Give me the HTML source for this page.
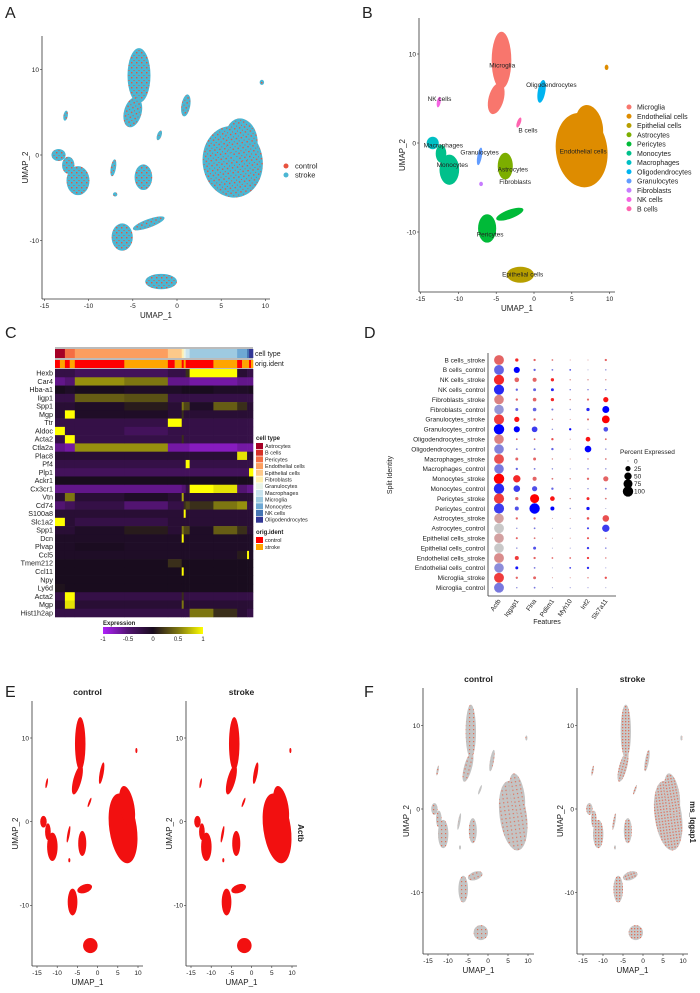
<!DOCTYPE html>
<html><head><meta charset="utf-8">
<style>
html,body{margin:0;padding:0;background:#fff;}
svg{display:block;font-family:"Liberation Sans",sans-serif;}
text{fill:#222;}
</style></head>
<body>
<svg id="fig" width="700" height="993" viewBox="0 0 700 993">
<defs>
<pattern id="patA" width="5" height="5" patternUnits="userSpaceOnUse"><rect width="5" height="5" fill="#4bb6d3"/><rect x="1" y="2" width="1.4" height="1.4" fill="#e8533f"/><rect x="3.5" y="0" width="1" height="1" fill="#e8533f"/></pattern>
<pattern id="patF" width="4" height="4" patternUnits="userSpaceOnUse"><rect width="4" height="4" fill="#c4c4c4"/><rect x="1" y="1" width="1.2" height="1.2" fill="#e0705a"/></pattern>
<pattern id="patFs" width="3" height="3" patternUnits="userSpaceOnUse"><rect width="3" height="3" fill="#c8c8c8"/><rect x="1" y="1" width="1.3" height="1.3" fill="#e0705a"/></pattern>
</defs>
<g id="root"></g>
</svg>
<script>
// ---------- UMAP cluster data (UMAP units) ----------
const clusterNames = ["Microglia","Microglia","Endothelial cells","Endothelial cells","Epithelial cells","Pericytes","Pericytes","Astrocytes","Monocytes","Monocytes","Macrophages","Oligodendrocytes","Granulocytes","Fibroblasts","NK cells","B cells","Endothelial cells"];
const clusterCX = [-4.3,-5.0,6.3,7.3,-1.8,-6.2,-3.2,-3.8,-11.2,-12.3,-13.4,1.0,-7.2,-7.0,-12.6,-2.0,9.6];
const clusterCY = [9.3,5.0,-0.8,1.8,-14.8,-9.6,-8.0,-2.6,-3.0,-1.2,0.0,5.8,-1.5,-4.6,4.6,2.3,8.5];
const clusterRX = [1.3,1.0,3.4,1.8,1.8,1.2,1.9,1.0,1.3,0.7,0.8,0.5,0.3,0.25,0.25,0.25,0.25];
const clusterRY = [3.2,1.8,4.2,2.5,0.9,1.6,0.5,1.5,1.7,1.0,0.7,1.3,1.0,0.25,0.6,0.6,0.3];
const clusterRot = [0,15,-8,-10,0,0,-20,0,0,0,0,10,10,0,10,20,0];
const legendB = ["Microglia","Endothelial cells","Epithelial cells","Astrocytes","Pericytes","Monocytes","Macrophages","Oligodendrocytes","Granulocytes","Fibroblasts","NK cells","B cells"];
const colorsB = ["#f8766d","#de8c00","#b79f00","#7cae00","#00ba38","#00c08b","#00bfc4","#00b4f0","#619cff","#c77cff","#f564e3","#ff64b0"];
const labelB = [["Microglia",-4.2,8.5],["Oligodendrocytes",2.3,6.3],["NK cells",-12.5,4.7],["B cells",-0.8,1.2],["Macrophages",-12.0,-0.5],["Granulocytes",-7.2,-1.3],["Monocytes",-10.8,-2.7],["Astrocytes",-2.8,-3.2],["Fibroblasts",-2.5,-4.6],["Endothelial cells",6.5,-1.2],["Pericytes",-5.8,-10.5],["Epithelial cells",-1.5,-15.0]];
const xTicks = [-15,-10,-5,0,5,10];
const yTicks = [-10,0,10];

// ---------- Heatmap data ----------
const hmGroups = ["Astrocytes","Pericytes","Endothelial cells","Endothelial cells","Epithelial cells","Fibroblasts","Granulocytes","Macrophages","Microglia","Microglia","Monocytes","NK cells","Oligodendrocytes"];
const hmGroupSize = [5,5,25,22,7,1,1,2,12,12,5,1,2];
const hmIdent = ["mix","mix","control","stroke","mix","control","stroke","control","control","stroke","mix","stroke","mix"];
const genes = ["Hexb","Car4","Hba-a1","Iigp1","Spp1","Mgp","Ttr","Aldoc","Acta2","Ctla2a","Plac8","Pf4","Plp1","Ackr1","Cx3cr1","Vtn","Cd74","S100a8","Slc1a2","Spp1","Dcn","Plvap","Ccl5","Tmem212","Ccl11","Npy","Ly6d","Acta2","Mgp","Hist1h2ap"];
const hmValues = [
[-.3,-.3,-.4,-.4,-.3,-.3,-.3,.2,1,1,-.2,-.3,-.3],
[-.6,-.5,.6,.5,-.6,-.6,-.6,-.6,-.7,-.7,-.6,-.6,-.6],
[0,-.1,0,-.1,-.1,0,0,0,0,-.1,-.1,-.1,0],
[-.3,-.3,.4,.35,-.3,-.3,-.3,-.3,-.3,-.3,-.3,-.3,-.3],
[-.2,-.2,-.1,.1,-.2,.5,.3,.3,-.1,.4,.2,-.2,-.2],
[-.2,1,-.1,-.1,-.2,.2,-.2,-.2,-.2,-.2,-.2,-.2,-.2],
[-.3,-.3,-.3,-.3,1,-.3,-.3,-.3,-.3,-.3,-.3,-.3,-.3],
[1,-.3,-.3,-.4,-.3,-.3,-.3,-.3,-.3,-.3,-.3,-.3,-.3],
[-.3,1,-.3,-.3,-.3,.2,-.3,-.3,-.3,-.3,-.3,-.3,-.3],
[-.6,-.7,.6,.6,-.7,-.7,-.7,-.7,-.8,-.8,-.7,-.7,-.7],
[-.2,-.2,-.2,-.2,-.2,-.2,-.2,-.2,-.2,-.2,.9,-.2,-.2],
[-.3,-.3,-.3,-.3,-.3,-.3,-.3,1,-.3,-.3,-.3,-.3,-.3],
[-.4,-.4,-.4,-.4,-.4,-.4,-.4,-.4,-.4,-.4,-.4,-.4,1],
[0,0,0,0,0,0,0,0,0,0,0,0,0],
[-.6,-.6,-.6,-.6,-.6,-.5,-.5,-.3,1,.9,-.5,-.6,-.6],
[-.2,.5,-.2,-.1,-.2,.7,-.2,-.2,-.2,-.2,-.2,-.2,-.2],
[-.5,-.4,-.3,-.5,-.3,-.3,.2,.3,.2,.5,.6,-.3,-.3],
[-.2,-.2,-.2,-.2,-.2,-.2,1,-.2,-.2,-.2,-.2,-.2,-.2],
[1,-.2,-.3,-.3,-.2,-.2,-.2,-.2,-.2,-.2,-.2,-.2,-.2],
[-.2,-.2,-.1,.1,-.2,.5,.3,.3,-.1,.4,.2,-.2,-.2],
[-.1,-.1,-.1,-.1,-.1,1,-.1,-.1,-.1,-.1,-.1,-.1,-.1],
[-.1,-.1,-.05,-.1,-.1,-.1,-.1,-.1,-.1,-.1,-.1,-.1,-.1],
[-.1,-.1,-.1,-.1,-.1,-.1,-.1,-.1,-.1,-.1,.1,1,-.1],
[0,0,0,0,.2,0,0,0,0,0,0,0,0],
[0,0,0,0,0,1,0,0,0,0,0,0,0],
[0,0,0,0,0,0,0,0,0,0,0,0,0],
[.05,0,0,0,0,0,0,0,0,0,0,0,0],
[-.3,1,-.3,-.3,-.3,.2,-.3,-.3,-.3,-.3,-.3,-.3,-.3],
[-.2,.9,-.2,-.2,-.2,.5,-.2,-.2,-.2,-.2,-.2,-.2,-.2],
[-.3,-.3,-.3,-.3,-.3,-.3,-.3,-.3,.5,.2,-.2,-.3,-.3]];
const cellTypeLegend = ["Astrocytes","B cells","Pericytes","Endothelial cells","Epithelial cells","Fibroblasts","Granulocytes","Macrophages","Microglia","Monocytes","NK cells","Oligodendrocytes"];
const cellTypeColors = ["#a50026","#d73027","#f46d43","#fc9e5f","#fdc98a","#fff0b0","#e8f3e8","#c8e3ee","#9ecae1","#6ea8d4","#4575b4","#313695"];

// ---------- Dot plot data ----------
const dotRows = ["B cells_stroke","B cells_control","NK cells_stroke","NK cells_control","Fibroblasts_stroke","Fibroblasts_control","Granulocytes_stroke","Granulocytes_control","Oligodendrocytes_stroke","Oligodendrocytes_control","Macrophages_stroke","Macrophages_control","Monocytes_stroke","Monocytes_control","Pericytes_stroke","Pericytes_control","Astrocytes_stroke","Astrocytes_control","Epithelial cells_stroke","Epithelial cells_control","Endothelial cells_stroke","Endothelial cells_control","Microglia_stroke","Microglia_control"];
const dotFeatures = ["Actb","Iqgap1","Flna","Pdlim1","Myh10","Inf2","Slc7a11"];
const dotPct = [
[90,10,5,3,1,1,5],[90,35,5,3,3,1,2],[95,20,15,10,2,2,2],[95,5,8,8,2,2,2],
[85,5,12,10,2,4,25],[85,8,12,4,2,10,45],[95,25,5,2,1,4,55],[100,35,30,2,5,1,20],
[85,3,3,5,1,20,3],[85,3,3,5,1,40,2],[90,8,8,2,1,2,3],[85,5,3,2,1,2,2],
[100,50,15,3,2,5,25],[100,40,25,5,1,2,3],[95,10,75,20,2,8,3],[95,15,100,15,2,10,1],
[85,5,5,1,1,6,40],[90,2,3,1,1,4,50],[85,4,3,1,1,4,2],[85,2,8,1,1,5,2],
[90,15,5,3,3,5,2],[85,8,3,1,3,5,1],[90,5,8,1,1,2,5],[90,2,3,1,1,1,1]];
const dotExpr = [
[.5,.8,.5,.4,.3,.3,.5],[.5,1,.5,.4,.6,.2,.3],[.8,.5,.5,.8,.3,.3,.3],[.8,.5,.5,.8,.4,.4,.4],
[.35,.5,.5,.8,.3,.5,.9],[.25,.5,.5,.4,.3,.8,1],[.7,.9,.5,.3,.3,.5,1],[1,1,.7,.3,1,.3,.6],
[.35,.5,.5,.6,.3,.9,.5],[.35,.4,.4,.5,.3,1,.3],[.6,.5,.5,.3,.3,.4,.4],[.4,.5,.4,.3,.3,.4,.3],
[1,.8,.5,.4,.3,.5,.5],[.8,.7,.6,.5,.3,.3,.4],[.7,.5,1,.9,.3,.8,.4],[.7,.6,1,1,.3,.9,.2],
[.2,.5,.5,.2,.3,.6,.6],[0,.3,.4,.2,.3,.7,.7],[.2,.5,.4,.2,.3,.6,.4],[0,.3,.6,.2,.3,.7,.4],
[.3,.7,.5,.5,.5,.7,.4],[.3,.9,.4,.2,.7,.8,.3],[.7,.5,.5,.3,.3,.4,.6],[.4,.3,.4,.2,.3,.3,.2]];
const pctLegend = [0,25,50,75,100];

const NS="http://www.w3.org/2000/svg";
const root=document.getElementById('root');
function el(tag,attrs,parent,txt){const e=document.createElementNS(NS,tag);for(const k in attrs)e.setAttribute(k,attrs[k]);if(txt!==undefined)e.textContent=txt;(parent||root).appendChild(e);return e;}

[["A",5,18],["B",362,18],["C",5,338],["D",364,338],["E",5,697],["F",364,697]].forEach(p=>{
  const t=el('text',{x:p[1],y:p[2],'font-size':16},root,p[0]);
  
  
});

function umap(cfg){
  const g=el('g',{});
  
  
  const X=v=>cfg.x0+v*cfg.sx, Y=v=>cfg.y0-v*cfg.sy;
  clusterNames.forEach((n,i)=>{
    const fill = cfg.fillFor(n,i);
    const e=el('ellipse',{cx:X(clusterCX[i]),cy:Y(clusterCY[i]),rx:clusterRX[i]*cfg.sx,ry:clusterRY[i]*cfg.sy,fill:fill,transform:`rotate(${clusterRot[i]} ${X(clusterCX[i])} ${Y(clusterCY[i])})`},g);
    
    
  });
  el('line',{x1:cfg.axL,y1:cfg.axT,x2:cfg.axL,y2:cfg.axB,stroke:'#333','stroke-width':0.8},g);
  el('line',{x1:cfg.axL,y1:cfg.axB,x2:cfg.axR,y2:cfg.axB,stroke:'#333','stroke-width':0.8},g);
  xTicks.forEach(t=>{el('line',{x1:X(t),x2:X(t),y1:cfg.axB,y2:cfg.axB+2,stroke:'#333','stroke-width':0.6},g);
    const tx=el('text',{x:X(t),y:cfg.axB+9,'font-size':6.5,'text-anchor':'middle'},g,String(t));
    });
  yTicks.forEach(t=>{el('line',{x1:cfg.axL-2,x2:cfg.axL,y1:Y(t),y2:Y(t),stroke:'#333','stroke-width':0.6},g);
    const tx=el('text',{x:cfg.axL-3,y:Y(t)+2.3,'font-size':6.5,'text-anchor':'end'},g,String(t));
    });
  const xt=el('text',{x:(cfg.axL+cfg.axR)/2,y:cfg.axB+19,'font-size':8,'text-anchor':'middle'},g,'UMAP_1');
  
  const yt=el('text',{x:0,y:0,'font-size':8,'text-anchor':'middle',transform:`translate(${cfg.axL-14},${(cfg.axT+cfg.axB)/2}) rotate(-90)`},g,'UMAP_2');
  
  if(cfg.title){const t=el('text',{x:(cfg.axL+cfg.axR)/2,y:cfg.axT-6,'font-size':8.5,'font-weight':'bold','text-anchor':'middle'},g,cfg.title);
    }
  return {g,X,Y};
}

const pa=umap({name:'umap-by-condition',x0:177,y0:155,sx:8.84,sy:8.55,axL:42,axR:270,axT:36,axB:299,fillFor:()=> 'url(#patA)'});
[["control","#e8533f",166],["stroke","#4bb6d3",175]].forEach(l=>{
  const c=el('circle',{cx:286,cy:l[2],r:2.5,fill:l[1]},pa.g);
  const t=el('text',{x:295,y:l[2]+2.5,'font-size':7.5},pa.g,l[0]);
});

const colorOf=n=>colorsB[legendB.indexOf(n)];
const pb=umap({name:'umap-by-cell-type',x0:534,y0:143,sx:7.56,sy:8.9,axL:419,axR:615,axT:18,axB:292,fillFor:n=>colorOf(n)});
labelB.forEach(l=>{const t=el('text',{x:pb.X(l[1]),y:pb.Y(l[2]),'font-size':6.5,'text-anchor':'middle'},pb.g,l[0]);
  });
legendB.forEach((n,i)=>{const y=107+i*9.25;
  const c=el('circle',{cx:629,cy:y,r:2.5,fill:colorsB[i]},pb.g);
  const t=el('text',{x:637,y:y+2.5,'font-size':7},pb.g,n);});

umap({name:'actb-control-umap',title:'control',x0:97.6,y0:821.7,sx:4.04,sy:8.37,axL:32,axR:143,axT:701,axB:966,fillFor:()=>'#f21010'});
umap({name:'actb-stroke-umap',title:'stroke',x0:251.6,y0:821.7,sx:4.04,sy:8.37,axL:186,axR:297,axT:701,axB:966,fillFor:()=>'#f21010'});
const ea=el('text',{x:0,y:0,'font-size':8,'font-weight':'bold',transform:'translate(298,833) rotate(90)','text-anchor':'middle'},root,'Actb');

umap({name:'iqgap1-control-umap',title:'control',x0:488,y0:809,sx:4.0,sy:8.35,axL:423,axR:534,axT:688,axB:954,fillFor:()=>'url(#patF)'});
umap({name:'iqgap1-stroke-umap',title:'stroke',x0:643,y0:809,sx:4.0,sy:8.35,axL:577,axR:688,axT:688,axB:954,fillFor:()=>'url(#patFs)'});
const fa=el('text',{x:0,y:0,'font-size':8,'font-weight':'bold',transform:'translate(690,822) rotate(90)','text-anchor':'middle'},root,'ms_Iqgap1');


// ---------- Panel C heatmap ----------
const hm=el('g',{});
const hmL=55,hmR=253,hmT=369,hmB=617;
const nCols=hmGroupSize.reduce((a,b)=>a+b,0);
const colW=(hmR-hmL)/nCols,rowH=(hmB-hmT)/genes.length;
function hmColor(v){v=Math.max(-1,Math.min(1,v));
  if(v<0){const t=Math.pow(-v,1.4);return `rgb(${Math.round(25+t*150)},${Math.round(12+t*20)},${Math.round(30+t*220)})`;}
  const t=Math.pow(v,1.2);return `rgb(${Math.round(25+t*230)},${Math.round(12+t*243)},${Math.round(30-t*30)})`;}
el('rect',{x:hmL,y:347,width:hmR-hmL,height:22,fill:'#bbb'},hm);
let c0=0;
hmGroups.forEach((gname,gi)=>{
  const x=hmL+c0*colW,w=hmGroupSize[gi]*colW;
  const r=el('rect',{x:x,y:349,width:w+0.3,height:9,fill:cellTypeColors[cellTypeLegend.indexOf(gname)]},hm);
  
  const id=hmIdent[gi];
  if(id==='mix'){el('rect',{x:x,y:360,width:w/2,height:8,fill:'#ff0000'},hm);el('rect',{x:x+w/2,y:360,width:w/2+0.3,height:8,fill:'#ffa500'},hm);}
  else el('rect',{x:x,y:360,width:w+0.3,height:8,fill:id==='control'?'#ff0000':'#ffa500'},hm);
  genes.forEach((gn,ri)=>{
    const cell=el('rect',{x:x,y:hmT+ri*rowH,width:w+0.3,height:rowH+0.3,fill:hmColor(hmValues[ri][gi])},hm);
    
  });
  c0+=hmGroupSize[gi];
});
genes.forEach((gn,ri)=>{const t=el('text',{x:hmL-2,y:hmT+ri*rowH+rowH*0.8,'font-size':7.2,'text-anchor':'end'},hm,gn);
  });
[["cell type",356],["orig.ident",366]].forEach(a=>{const t=el('text',{x:255,y:a[1],'font-size':7},hm,a[0]);});
const lt=el('text',{x:256,y:440,'font-size':6,'font-weight':'bold'},hm,'cell type');
cellTypeLegend.forEach((n,i)=>{const y=443+i*6.7;
  el('rect',{x:256,y:y,width:7,height:6,fill:cellTypeColors[i]},hm);
  const t=el('text',{x:265,y:y+5,'font-size':5.5},hm,n);});
const lo=el('text',{x:256,y:534,'font-size':6,'font-weight':'bold'},hm,'orig.ident');
[["control","#ff0000",537],["stroke","#ffa500",544]].forEach(a=>{el('rect',{x:256,y:a[2],width:7,height:6,fill:a[1]},hm);
  const t=el('text',{x:265,y:a[2]+5,'font-size':5.5},hm,a[0]);});
const cbg=el('linearGradient',{id:'cbar',x1:0,x2:1,y1:0,y2:0},root);
[[0,-1],[0.25,-0.5],[0.5,0],[0.75,0.5],[1,1]].forEach(s=>el('stop',{offset:s[0],'stop-color':hmColor(s[1])},cbg));
const ex=el('text',{x:103,y:625,'font-size':6,'font-weight':'bold'},hm,'Expression');
const cb=el('rect',{x:103,y:627,width:100,height:7,fill:'url(#cbar)'},hm);
[-1,-0.5,0,0.5,1].forEach(v=>{const t=el('text',{x:153+v*50,y:641,'font-size':6,'text-anchor':'middle'},hm,String(v));});

// ---------- Panel D dot plot ----------
const dp=el('g',{});
const dX=i=>499+i*17.8, dY=i=>360+i*9.9;
const rad=p=>Math.sqrt(p/100)*5.2;
function mix(a,b,t){return `rgb(${Math.round(a[0]+(b[0]-a[0])*t)},${Math.round(a[1]+(b[1]-a[1])*t)},${Math.round(a[2]+(b[2]-a[2])*t)})`;}
el('line',{x1:488,y1:353,x2:488,y2:596,stroke:'#333','stroke-width':0.8},dp);
el('line',{x1:488,y1:596,x2:616,y2:596,stroke:'#333','stroke-width':0.8},dp);
dotRows.forEach((r,ri)=>{
  const t=el('text',{x:485,y:dY(ri)+2.3,'font-size':6.5,'text-anchor':'end'},dp,r);
  
  const stroke=r.endsWith('stroke');
  dotFeatures.forEach((f,fi)=>{
    const col=mix([200,200,200],stroke?[255,0,0]:[0,0,255],dotExpr[ri][fi]);
    const c=el('circle',{cx:dX(fi),cy:dY(ri),r:Math.max(0.5,rad(dotPct[ri][fi])),fill:col},dp);
    
  });
});
dotFeatures.forEach((f,fi)=>{const t=el('text',{x:0,y:0,'font-size':6.5,'text-anchor':'end',transform:`translate(${dX(fi)+2},${601}) rotate(-55)`},dp,f);
  });
const fx=el('text',{x:547,y:624,'font-size':7,'text-anchor':'middle'},dp,'Features');
const sy=el('text',{x:0,y:0,'font-size':7,'text-anchor':'middle',transform:'translate(392,475) rotate(-90)'},dp,'Split Identity');
const pt=el('text',{x:620,y:454,'font-size':6.5},dp,'Percent Expressed');
pctLegend.forEach((p,i)=>{const y=461+i*7.6;
  el('circle',{cx:628,cy:y,r:Math.max(0.4,rad(p)),fill:'#000'},dp);
  const t=el('text',{x:634,y:y+2.3,'font-size':6.5},dp,String(p));});
</script>
</body></html>
